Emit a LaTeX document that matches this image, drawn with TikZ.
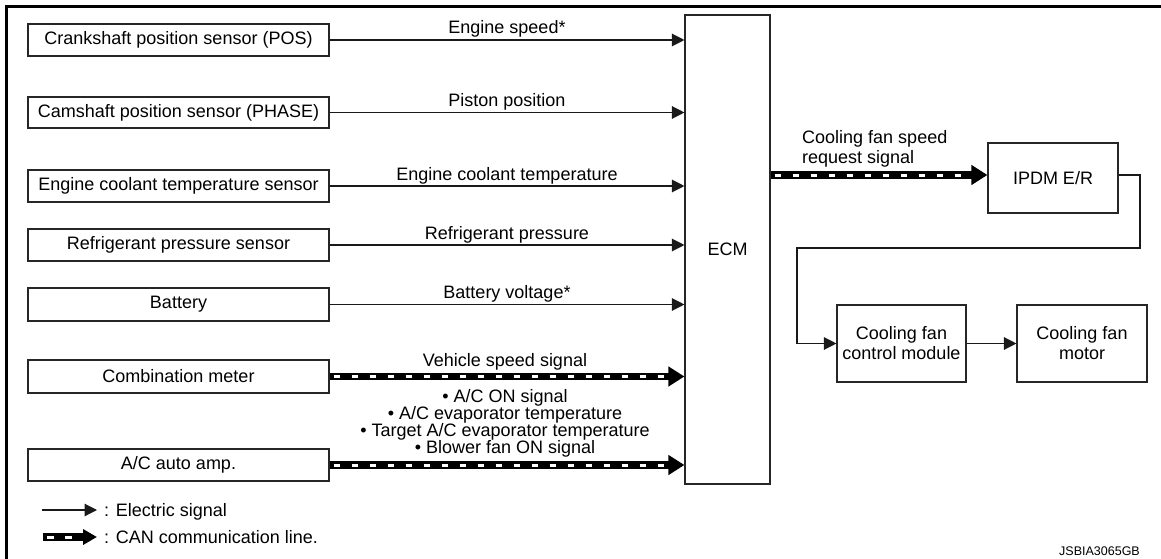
\documentclass[tikz,border=0pt]{standalone}
\usepackage{fontspec}
\setmainfont{Liberation Sans}
\usetikzlibrary{arrows.meta}
\begin{document}
\begin{tikzpicture}[x=1pt,y=-1pt,
  box/.style={draw=black!85, line width=1.1pt, fill=white, inner sep=0pt, font=\fontsize{18}{20}\selectfont, align=center},
  lbox/.style={box, minimum width=301pt, minimum height=32pt},
  elec/.style={draw=black!90, line width=1.2pt, -{Triangle[length=12.5pt,width=12.5pt]}},
  can/.style={draw=black, line width=7.5pt, -{Triangle[length=16pt,width=19pt]},
    postaction={draw=white, line width=3pt, -, dash pattern=on 6.5pt off 11.5pt, dash phase=-4pt, shorten >=18pt}},
  lbl/.style={font=\fontsize{18}{17}\selectfont, inner sep=0pt, anchor=base, align=center},
  legtext/.style={font=\fontsize{18}{20}\selectfont, inner sep=0pt, anchor=base west}
]
\useasboundingbox (0,0) rectangle (1161,559);
\fill[white] (0,0) rectangle (1161,559);
% frame
\draw[line width=3pt] (6.5,559) -- (6.5,6.5) -- (1161,6.5);

% ECM
\node[box, minimum width=85pt, minimum height=469pt] (ecm) at (727.5,249.5) {ECM};

% left boxes
\node[lbox] (crank) at (178.5,40) {Crankshaft position sensor (POS)};
\node[lbox, minimum height=31pt] (cam) at (178.5,112.5) {Camshaft position sensor (PHASE)};
\node[lbox] (cool) at (178.5,186) {Engine coolant temperature sensor};
\node[lbox] (refr) at (178.5,245) {Refrigerant pressure sensor};
\node[lbox, minimum height=33pt] (batt) at (178.5,304.5) {Battery};
\node[lbox, minimum height=33pt] (comb) at (178.5,376.5) {Combination meter};
\node[lbox] (acamp) at (178.5,465) {A/C auto amp.};

% electric signals to ECM
\draw[elec] (crank.east) -- (crank.east -| ecm.west)
  node[lbl, midway, yshift=6pt] {Engine speed*};
\draw[elec] (cam.east) -- (cam.east -| ecm.west)
  node[lbl, midway, yshift=6pt] {Piston position};
\draw[elec] (cool.east) -- (cool.east -| ecm.west)
  node[lbl, midway, yshift=6pt] {Engine coolant temperature};
\draw[elec] (refr.east) -- (refr.east -| ecm.west)
  node[lbl, midway, yshift=6pt] {Refrigerant pressure};
\draw[elec] (batt.east) -- (batt.east -| ecm.west)
  node[lbl, midway, yshift=6pt] {Battery voltage*};

% CAN signals to ECM
\draw[can] (comb.east) -- (comb.east -| ecm.west);
\node[lbl] (vss) at (505,366.5) {Vehicle speed signal};
\draw[can] (acamp.east) -- (acamp.east -| ecm.west);
\node[lbl, anchor=center] (aclist) at (505,423) {• A/C ON signal\\• A/C evaporator temperature\\• Target A/C evaporator temperature\\• Blower fan ON signal};

% right side
\node[box, minimum width=130pt, minimum height=70pt] (ipdm) at (1053,178) {IPDM E/R};
\node[box, minimum width=129pt, minimum height=77pt] (ctrl) at (901.5,343.5) {Cooling fan\\control module};
\node[box, minimum width=130pt, minimum height=77pt] (motor) at (1082,343.5) {Cooling fan\\motor};

\coordinate (r) at (0,175);
\draw[can] (ecm.east |- r) -- (ipdm.west |- r);
\node[font=\fontsize{18}{20}\selectfont, inner sep=0pt, anchor=west, align=left] (req) at (802,149) {Cooling fan speed\\request signal};

\coordinate (c1) at (1140,175);
\coordinate (c2) at (1140,248);
\coordinate (c3) at (797,248);
\draw[elec] (ipdm.east |- c1) -- (c1) -- (c2) -- (c3) |- (ctrl.west);
\draw[elec] (ctrl.east) -- (motor.west);

% legend
\coordinate (le1) at (42,510);
\coordinate (le2) at (97,510);
\draw[elec] (le1) -- (le2);
\node[legtext] (let) at (104,516.5) {: Electric signal};
\coordinate (lc1) at (43,537);
\coordinate (lc2) at (97,537);
\draw[can, -{Triangle[length=14pt,width=15pt]}] (lc1) -- (lc2);
\node[legtext] (lct) at (104,543.5) {: CAN communication line.};

\node[font=\fontsize{12.5}{14}\selectfont, inner sep=0pt, anchor=base east] (code) at (1140,555) {JSBIA3065GB};
\end{tikzpicture}
\end{document}
